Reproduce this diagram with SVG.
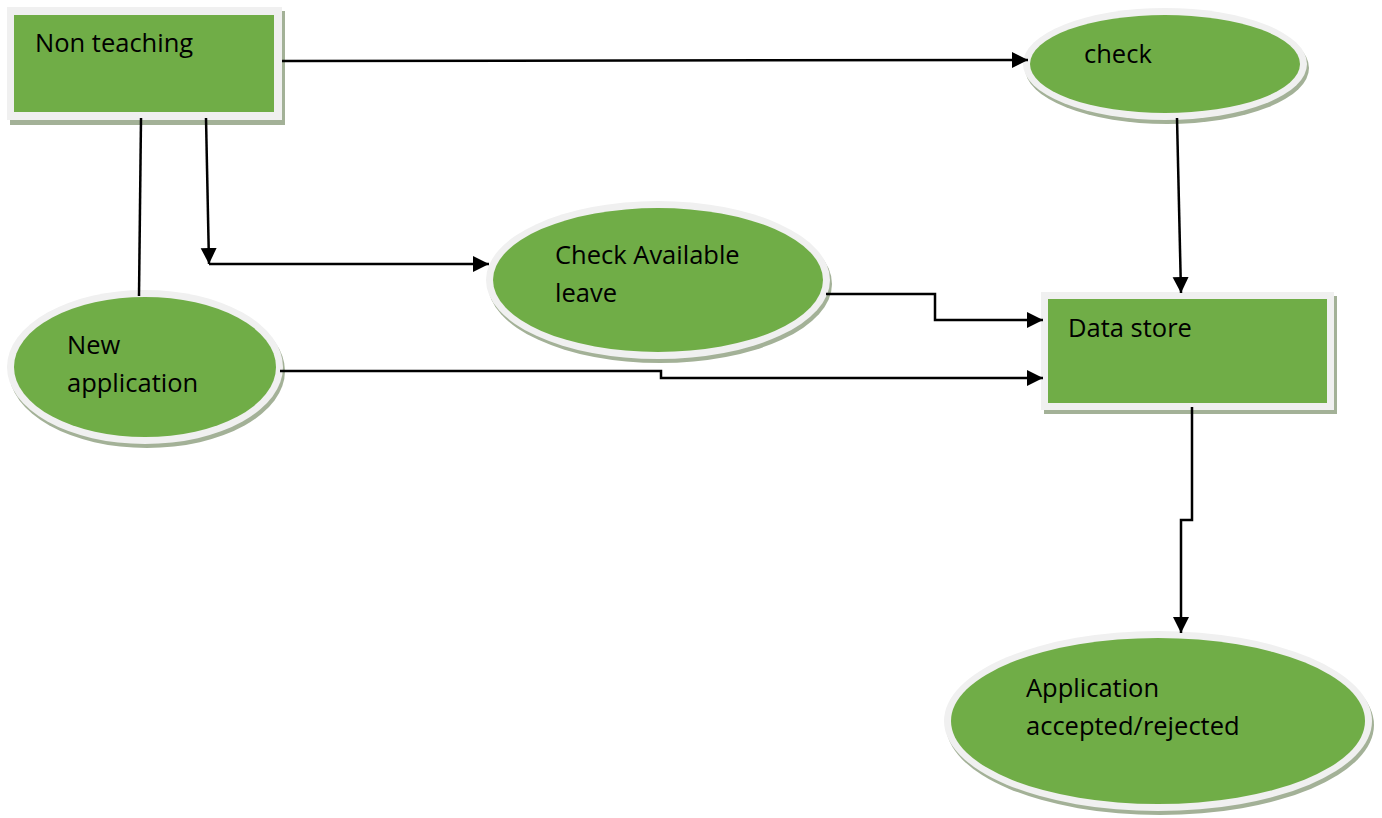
<svg xmlns="http://www.w3.org/2000/svg" width="1382" height="818" viewBox="0 0 1382 818">
<style>
.sh{fill:#a3b197}
.fr{fill:#f0f0f0}
.gr{fill:#70ad47}
.t{font-family:"Open Sans","Liberation Sans",sans-serif;font-size:25.5px;fill:#000}
.c{fill:none;stroke:#000;stroke-width:2.5}
</style>
<defs>
<marker id="ah" markerUnits="userSpaceOnUse" markerWidth="18" markerHeight="18" refX="16" refY="8" orient="auto">
<path d="M0,0 L16,8 L0,16 Z" fill="#000"/>
</marker>
</defs>
<rect width="1382" height="818" fill="#fff"/>
<g id="nonteaching">
<rect class="sh" x="10" y="11" width="275" height="114"/>
<rect class="fr" x="7" y="7" width="275" height="113"/>
<rect class="gr" x="14" y="15" width="260" height="97"/>
<text class="t" x="35" y="52">Non teaching</text>
</g>
<g id="check">
<ellipse class="sh" cx="1167" cy="68" rx="142" ry="56"/>
<ellipse class="fr" cx="1165" cy="64" rx="142" ry="56"/>
<ellipse class="gr" cx="1165" cy="64" rx="135" ry="49"/>
<text class="t" x="1084" y="63">check</text>
</g>
<g id="checkavailable">
<ellipse class="sh" cx="660" cy="284" rx="172" ry="79"/>
<ellipse class="fr" cx="658" cy="280" rx="172" ry="79"/>
<ellipse class="gr" cx="658" cy="280" rx="165" ry="72"/>
<text class="t" x="555" y="264">Check Available</text>
<text class="t" x="555" y="302">leave</text>
</g>
<g id="newapplication">
<ellipse class="sh" cx="147" cy="371" rx="138" ry="77"/>
<ellipse class="fr" cx="145" cy="367" rx="138" ry="77"/>
<ellipse class="gr" cx="145" cy="367" rx="131" ry="70"/>
<text class="t" x="67" y="354">New</text>
<text class="t" x="67" y="392">application</text>
</g>
<g id="datastore">
<rect class="sh" x="1044" y="296" width="293" height="118"/>
<rect class="fr" x="1041" y="292" width="293" height="118"/>
<rect class="gr" x="1048" y="299" width="279" height="104"/>
<text class="t" x="1068" y="337">Data store</text>
</g>
<g id="result">
<ellipse class="sh" cx="1160" cy="725" rx="214" ry="90"/>
<ellipse class="fr" cx="1158" cy="721" rx="214" ry="90"/>
<ellipse class="gr" cx="1158" cy="721" rx="207" ry="83"/>
<text class="t" x="1026" y="697">Application</text>
<text class="t" x="1026" y="735">accepted/rejected</text>
</g>
<g id="connectors">
<path class="c" d="M282,61 L1028,60" marker-end="url(#ah)"/>
<path class="c" d="M141,118 L139,296"/>
<path class="c" d="M206,118 L209,264" marker-end="url(#ah)"/>
<path class="c" d="M209,264 L489,264" marker-end="url(#ah)"/>
<path class="c" d="M826,294 L935,294 L935,320 L1043,320" marker-end="url(#ah)"/>
<path class="c" d="M280,371 L661,371 L661,378 L1043,378" marker-end="url(#ah)"/>
<path class="c" d="M1177,118 L1181,293" marker-end="url(#ah)"/>
<path class="c" d="M1192,407 L1192,520 L1181,520 L1181,633" marker-end="url(#ah)"/>
</g>
</svg>
